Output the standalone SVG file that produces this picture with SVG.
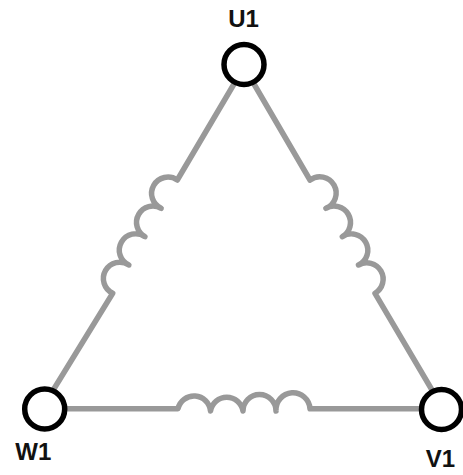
<svg xmlns="http://www.w3.org/2000/svg" width="463" height="475" viewBox="0 0 463 475">
<style>
.wire{fill:none;stroke:#999;stroke-width:5.500;stroke-linejoin:round}
.term{fill:none;stroke:#000;stroke-width:5.500}
.lbl{font-family:"Liberation Sans",Arial,sans-serif;font-weight:bold;font-size:24px;fill:#111;text-anchor:middle}
</style>
<rect width="463" height="475" fill="#fff"/>
<g id="connectors">
<path class="wire" d="M234 84L177.300 180A16.350 16.350 0 1 0 161.200 208.300A16.350 16.350 0 1 0 145 236.700A16.350 16.350 0 1 0 128.900 265A16.350 16.350 0 1 0 112.700 293.300L52 392"/>
<path class="wire" d="M254 84L310 180A16.350 16.350 0 1 1 325.800 208.300A16.350 16.350 0 1 1 342.300 236.700A16.350 16.350 0 1 1 358.500 265A16.350 16.350 0 1 1 375 293.300L432 390"/>
<path class="wire" d="M66 408.700H178A16.500 16.500 0 0 1 210.500 411A16.500 16.500 0 0 1 243 411A16.500 16.500 0 0 1 276 411A17 17 0 0 1 310 408.700H420"/>
</g>
<g id="U1"><circle class="term" cx="244" cy="64.500" r="20"/><text class="lbl" x="243.500" y="27">U1</text></g>
<g id="V1"><circle class="term" cx="441.500" cy="409.500" r="20"/><text class="lbl" x="440.500" y="467">V1</text></g>
<g id="W1"><circle class="term" cx="44.700" cy="409" r="20"/><text class="lbl" x="33.300" y="460">W1</text></g>
</svg>
